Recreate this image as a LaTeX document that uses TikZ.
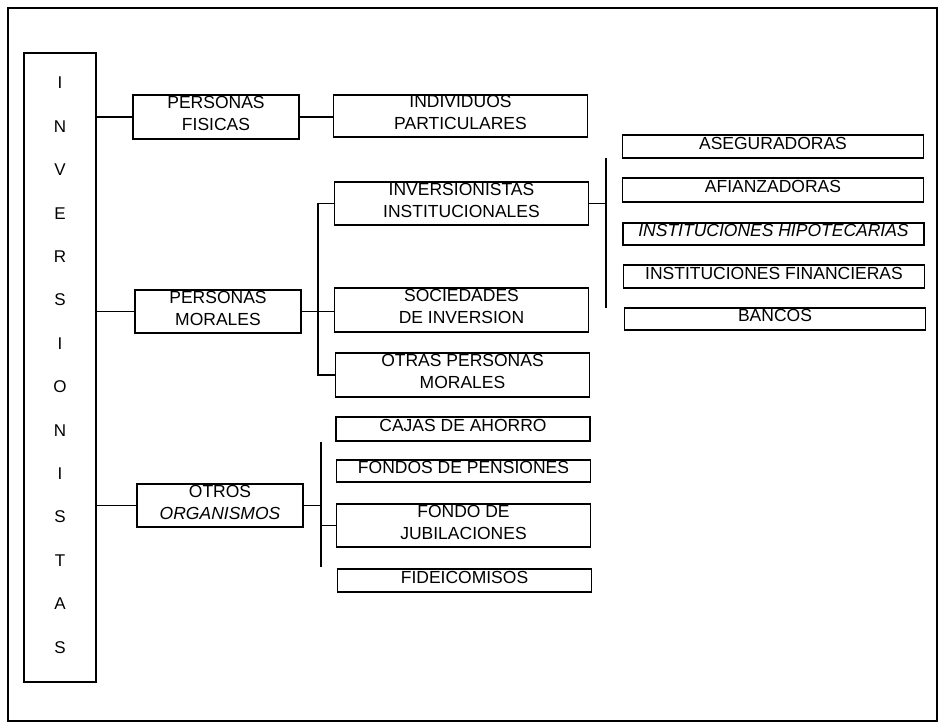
\documentclass[tikz,border=0pt]{standalone}
\usepackage{fontspec}
\setmainfont{Liberation Sans}
\usetikzlibrary{calc}
\begin{document}
\begin{tikzpicture}[x=1pt,y=-1pt,line width=1.4pt,
  frame/.style={draw,rectangle,inner sep=0pt},
  boxL/.style={frame,minimum width=166pt,minimum height=#1},
  boxM/.style={frame,minimum width=254pt,minimum height=#1},
  boxR/.style={frame,minimum width=301pt,minimum height=#1},
  txt/.style={inner sep=0pt,align=center,font=\fontsize{17.5}{22}\selectfont,yshift=3.5pt},
  letter/.style={inner sep=0pt,font=\fontsize{17}{22}\selectfont},
  conn/.style={draw,line width=1.5pt}]
\useasboundingbox (0,0) rectangle (940,724);
% outer frame
\draw[line width=1.6pt] (8,8) rectangle (937,721);
% column
\node[frame,minimum width=72pt,minimum height=629pt] (col) at (60,367.5) {};
\foreach \L [count=\i from 0] in {I,N,V,E,R,S,I,O,N,I,S,T,A,S}
  \node[letter] (l\i) at (60,{83+43.4*\i}) {\L};
% level 1
\node[boxL=44pt] (pf) at (216,117) {};
\node[txt] (pft) at (pf.center) {PERSONAS\\FISICAS};
\node[boxL=43pt] (pm) at (218,311.5) {};
\node[txt] (pmt) at (pm.center) {PERSONAS\\MORALES};
\node[boxL=43pt] (oo) at (220,505.5) {};
\node[txt] (oot) at (oo.center) {OTROS\\\textit{ORGANISMOS}};
% level 2
\node[boxM=42pt] (ip) at (460.5,116) {};
\node[txt] (ipt) at (ip.center) {INDIVIDUOS\\PARTICULARES};
\node[boxM=43pt] (ii) at (461.5,203.5) {};
\node[txt] (iit) at (ii.center) {INVERSIONISTAS\\INSTITUCIONALES};
\node[boxM=44pt] (sdi) at (461.5,310) {};
\node[txt] (sdit) at (sdi.center) {SOCIEDADES\\DE INVERSION};
\node[boxM=44pt] (opm) at (462.5,375) {};
\node[txt] (opmt) at (opm.center) {OTRAS PERSONAS\\MORALES};
\node[boxM=24pt] (ca) at (463,429) {};
\node[txt] (cat) at (ca.center) {CAJAS DE AHORRO};
\node[boxM=22pt] (fp) at (463.5,471) {};
\node[txt] (fpt) at (fp.center) {FONDOS DE PENSIONES};
\node[boxM=43pt] (fj) at (463.5,525.5) {};
\node[txt] (fjt) at (fj.center) {FONDO DE\\JUBILACIONES};
\node[boxM=23pt] (fi) at (464.5,580.5) {};
\node[txt] (fit) at (fi.center) {FIDEICOMISOS};
% level 3
\node[boxR=23pt] (as) at (773,146.5) {};
\node[txt] (ast) at (as.center) {ASEGURADORAS};
\node[boxR=24pt] (af) at (773,190) {};
\node[txt] (aft) at (af.center) {AFIANZADORAS};
\node[boxR=22pt] (ih) at (773.5,234) {};
\node[txt] (iht) at (ih.center) {\textit{INSTITUCIONES HIPOTECARIAS}};
\node[boxR=23pt] (if) at (774,276.5) {};
\node[txt] (ift) at (if.center) {INSTITUCIONES FINANCIERAS};
\node[boxR=22pt] (ba) at (775,319) {};
\node[txt] (bat) at (ba.center) {BANCOS};
% connectors
\draw[conn] (col.east |- pf.west) -- (pf.west);
\draw[conn] (col.east |- pm.west) -- (pm.west);
\draw[conn] (col.east |- oo.west) -- (oo.west);
\draw[conn] (pf.east) -- (ip.west |- pf.east);
\draw[conn] (pm.east) -- (sdi.west |- pm.east);
\coordinate (b1) at (318,0);
\draw[conn] (ii.west) -- (ii.west -| b1) -- (opm.west -| b1) -- (opm.west);
\coordinate (v1t) at (606,158);
\coordinate (v1b) at (606,308);
\draw[conn] (v1t) -- (v1b);
\draw[conn] (ii.east) -- (ii.east -| v1t);
\coordinate (v2t) at (321,442);
\coordinate (v2b) at (321,567);
\draw[conn] (v2t) -- (v2b);
\draw[conn] (oo.east) -- (oo.east -| v2t);
\draw[conn] (fj.west -| v2t) -- (fj.west);
\end{tikzpicture}
\end{document}
